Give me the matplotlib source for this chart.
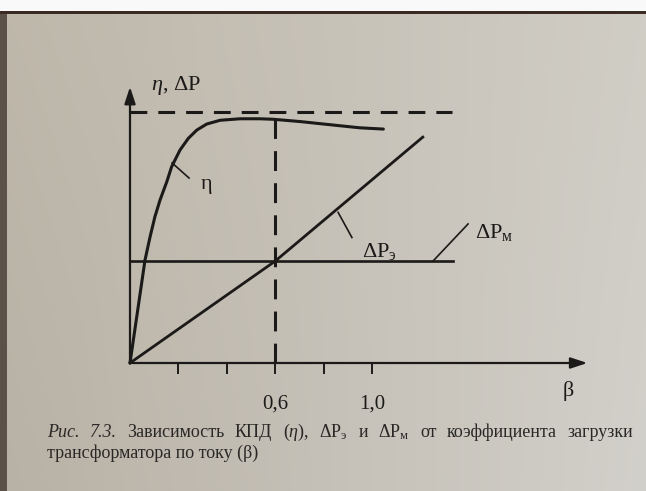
import numpy as np
import matplotlib
matplotlib.use("Agg")
import matplotlib.pyplot as plt

plt.rcParams["font.family"] = ["Liberation Serif", "DejaVu Serif"]
plt.rcParams["mathtext.fontset"] = "custom"
plt.rcParams["mathtext.rm"] = "Liberation Serif"
plt.rcParams["mathtext.it"] = "Liberation Serif:italic"

W, H = 646, 491
INK = "#1b1a18"

# efficiency curve eta(beta), relative to the max-efficiency level 1.0
beta_eta = [0, 0.062, 0.083, 0.103, 0.124, 0.152, 0.172, 0.207, 0.241, 0.276,
            0.317, 0.372, 0.455, 0.537, 0.592, 0.702, 0.840, 0.950, 1.047]
eta = [0, 0.410, 0.503, 0.583, 0.649, 0.722, 0.782, 0.849, 0.895, 0.928,
       0.952, 0.967, 0.973, 0.973, 0.971, 0.962, 0.948, 0.937, 0.932]

# copper losses (grow with load) and iron losses (constant)
beta_pe = [0, 0.6, 1.21]
dp_e = [0, 0.406, 0.90]
beta_pm = [0, 1.335]
dp_m = 0.406

beta_opt = 0.6
eta_top = 1.0
eta_top_end = 1.33
x_ticks = [0.2, 0.4, 0.6, 0.8, 1.0]
x_tick_labels = ["", "", "0,6", "", "1,0"]

fig = plt.figure(figsize=(W / 100, H / 100), dpi=100)

# paper background: uneven lighting, white strip and dark edge of the page
bg = fig.add_axes([0, 0, 1, 1])
yy, xx = np.mgrid[0:1:H * 1j, 0:1:W * 1j]
tl, tr = np.array([190, 183, 170]), np.array([208, 205, 197])
bl, br = np.array([184, 177, 165]), np.array([210, 208, 202])
img = ((1 - yy)[..., None] * ((1 - xx)[..., None] * tl + xx[..., None] * tr)
       + yy[..., None] * ((1 - xx)[..., None] * bl + xx[..., None] * br)) / 255
img[:, :7] = np.array([92, 82, 74]) / 255
img[:11] = 0.98
img[11:14] = np.array([60, 42, 36]) / 255
bg.imshow(img, aspect="auto", extent=[0, 1, 0, 1], zorder=0)
bg.set_axis_off()

# chart axes in beta / relative units: origin at (130, 363) px
x0, y0, sx, sy = 130, 363, 242, 251
ax = fig.add_axes([0, 0, 1, 1])
ax.patch.set_alpha(0)
ax.set_xlim(-x0 / sx, (W - x0) / sx)
ax.set_ylim(-(H - y0) / sy, y0 / sy)
ax.set_axis_off()

arrow = dict(arrowstyle="-|>,head_length=1.0,head_width=0.33", color=INK,
             lw=1.6, shrinkA=0, shrinkB=0, mutation_scale=10)
ax.annotate("", xy=(1.89, 0), xytext=(0, 0), arrowprops=arrow)
ax.annotate("", xy=(0, 1.10), xytext=(0, 0), arrowprops=arrow)
ax.vlines(x_ticks, -0.045, 0, color=INK, lw=1.4)
for xt, lab in zip(x_ticks, x_tick_labels):
    if lab:
        ax.text(xt, -0.165, lab, ha="center", va="center", fontsize=15, color=INK)
ax.text(1.81, -0.11, "β", ha="center", va="center", fontsize=16, color=INK)
ax.text(0.085, 1.105, r"$\eta$, ΔP", ha="left", va="center", fontsize=16, color=INK)

ax.plot([0, eta_top_end], [eta_top, eta_top], color=INK, lw=2.2, dashes=(5.5, 3.6))
ax.plot([beta_opt, beta_opt], [0, np.interp(beta_opt, beta_eta, eta)],
        color=INK, lw=2.2, dashes=(6.5, 4.0))
ax.plot(beta_eta, eta, color=INK, lw=2.2, solid_capstyle="round")
ax.plot(beta_pe, dp_e, color=INK, lw=2.0)
ax.plot(beta_pm, [dp_m, dp_m], color=INK, lw=1.9)

# curve labels with leader lines
ax.plot([0.174, 0.244], [0.797, 0.737], color=INK, lw=1.2)
ax.text(0.318, 0.71, "η", ha="center", va="center", fontsize=16, color=INK)
ax.plot([0.860, 0.917], [0.600, 0.500], color=INK, lw=1.2)
ax.text(0.96, 0.445, r"ΔP$_{\mathrm{э}}$", ha="left", va="center", fontsize=16, color=INK)
ax.plot([1.252, 1.397], [dp_m, 0.554], color=INK, lw=1.2)
ax.text(1.425, 0.52, r"ΔP$_{\mathrm{м}}$", ha="left", va="center", fontsize=16, color=INK)

# figure caption, first line justified between the page margins
line1 = [("Рис.", "italic"), ("7.3.", "italic"), ("Зависимость", "normal"),
         ("КПД", "normal"), (r"($\eta$),", "normal"), (r"ΔP$_{\mathrm{э}}$", "normal"),
         ("и", "normal"), (r"ΔP$_{\mathrm{м}}$", "normal"), ("от", "normal"),
         ("коэффициента", "normal"), ("загрузки", "normal")]
cap_color = "#2a2826"
texts = [fig.text(0, 1 - 437 / H, s, style=st, fontsize=13, color=cap_color,
                  ha="left", va="baseline") for s, st in line1]
fig.canvas.draw()
rend = fig.canvas.get_renderer()
widths = [t.get_window_extent(rend).width for t in texts]
left, right = 47, 633
gap = (right - left - sum(widths)) / (len(texts) - 1)
xpos = left
for t, w in zip(texts, widths):
    t.set_x(xpos / W)
    xpos += w + gap
fig.text(left / W, 1 - 458 / H, "трансформатора по току (β)", fontsize=13,
         color=cap_color, ha="left", va="baseline")

fig.savefig("out.png", dpi=100)
